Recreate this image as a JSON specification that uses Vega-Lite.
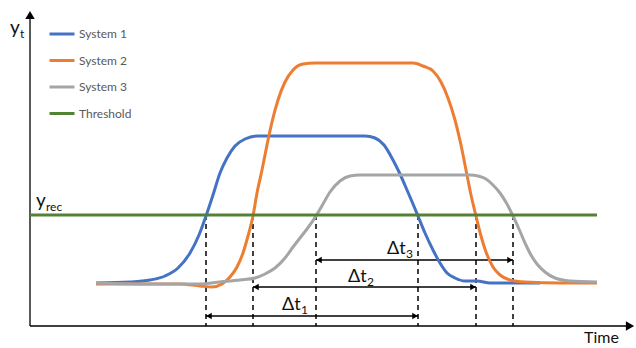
{
  "$schema": "https://vega.github.io/schema/vega-lite/v6.json",
  "width": 636,
  "height": 348,
  "padding": 0,
  "autosize": {"type": "none"},
  "background": "white",
  "config": {"view": {"stroke": null}},
  "datasets": {
    "curves": [
      {"s":"System 1","x":96,"y":283},{"s":"System 1","x":130,"y":282},{"s":"System 1","x":150,"y":280},{"s":"System 1","x":165,"y":276},{"s":"System 1","x":178,"y":268},{"s":"System 1","x":190,"y":253},{"s":"System 1","x":199,"y":235},{"s":"System 1","x":206,"y":216},{"s":"System 1","x":213,"y":195},{"s":"System 1","x":220,"y":173},{"s":"System 1","x":227,"y":158},{"s":"System 1","x":235,"y":146},{"s":"System 1","x":245,"y":139},{"s":"System 1","x":258,"y":136},{"s":"System 1","x":300,"y":136},{"s":"System 1","x":340,"y":136},{"s":"System 1","x":365,"y":136},{"s":"System 1","x":375,"y":138},{"s":"System 1","x":384,"y":145},{"s":"System 1","x":393,"y":160},{"s":"System 1","x":400,"y":174},{"s":"System 1","x":407,"y":190},{"s":"System 1","x":413,"y":204},{"s":"System 1","x":418,"y":216},{"s":"System 1","x":425,"y":233},{"s":"System 1","x":433,"y":250},{"s":"System 1","x":440,"y":263},{"s":"System 1","x":447,"y":273},{"s":"System 1","x":455,"y":278},{"s":"System 1","x":465,"y":281},{"s":"System 1","x":477,"y":281},{"s":"System 1","x":490,"y":283},{"s":"System 1","x":510,"y":283},{"s":"System 1","x":540,"y":283},
      {"s":"System 2","x":96,"y":284},{"s":"System 2","x":150,"y":284},{"s":"System 2","x":180,"y":284},{"s":"System 2","x":200,"y":286},{"s":"System 2","x":212,"y":287},{"s":"System 2","x":222,"y":284},{"s":"System 2","x":230,"y":277},{"s":"System 2","x":237,"y":267},{"s":"System 2","x":243,"y":253},{"s":"System 2","x":248,"y":236},{"s":"System 2","x":253,"y":216},{"s":"System 2","x":257,"y":193},{"s":"System 2","x":262,"y":170},{"s":"System 2","x":267,"y":145},{"s":"System 2","x":272,"y":122},{"s":"System 2","x":278,"y":100},{"s":"System 2","x":285,"y":82},{"s":"System 2","x":293,"y":70},{"s":"System 2","x":303,"y":64},{"s":"System 2","x":315,"y":63},{"s":"System 2","x":400,"y":63},{"s":"System 2","x":413,"y":63},{"s":"System 2","x":423,"y":66},{"s":"System 2","x":433,"y":71},{"s":"System 2","x":441,"y":82},{"s":"System 2","x":448,"y":98},{"s":"System 2","x":455,"y":120},{"s":"System 2","x":461,"y":145},{"s":"System 2","x":466,"y":170},{"s":"System 2","x":471,"y":195},{"s":"System 2","x":476,"y":216},{"s":"System 2","x":481,"y":236},{"s":"System 2","x":486,"y":252},{"s":"System 2","x":493,"y":267},{"s":"System 2","x":500,"y":275},{"s":"System 2","x":510,"y":280},{"s":"System 2","x":525,"y":282},{"s":"System 2","x":560,"y":283},{"s":"System 2","x":597,"y":283},
      {"s":"System 3","x":96,"y":283},{"s":"System 3","x":150,"y":284},{"s":"System 3","x":200,"y":284},{"s":"System 3","x":220,"y":282},{"s":"System 3","x":240,"y":280},{"s":"System 3","x":255,"y":278},{"s":"System 3","x":265,"y":274},{"s":"System 3","x":275,"y":268},{"s":"System 3","x":285,"y":258},{"s":"System 3","x":293,"y":247},{"s":"System 3","x":300,"y":238},{"s":"System 3","x":307,"y":229},{"s":"System 3","x":316,"y":216},{"s":"System 3","x":323,"y":204},{"s":"System 3","x":330,"y":192},{"s":"System 3","x":340,"y":181},{"s":"System 3","x":350,"y":176},{"s":"System 3","x":360,"y":175},{"s":"System 3","x":400,"y":175},{"s":"System 3","x":470,"y":175},{"s":"System 3","x":478,"y":176},{"s":"System 3","x":486,"y":179},{"s":"System 3","x":493,"y":185},{"s":"System 3","x":500,"y":193},{"s":"System 3","x":507,"y":204},{"s":"System 3","x":513,"y":216},{"s":"System 3","x":519,"y":229},{"s":"System 3","x":525,"y":243},{"s":"System 3","x":531,"y":255},{"s":"System 3","x":537,"y":264},{"s":"System 3","x":545,"y":272},{"s":"System 3","x":555,"y":278},{"s":"System 3","x":570,"y":281},{"s":"System 3","x":597,"y":282},
      {"s":"Threshold","x":30,"y":215},{"s":"Threshold","x":597,"y":215}
    ],
    "dashes": [
      {"x":206,"y":215,"y2":326},{"x":253,"y":215,"y2":326},{"x":316,"y":215,"y2":326},
      {"x":418,"y":215,"y2":326},{"x":476,"y":215,"y2":326},{"x":513,"y":215,"y2":326}
    ],
    "spans": [
      {"x":206,"x2":418,"y":316,"y2":316},
      {"x":253,"x2":476,"y":287,"y2":287},
      {"x":316,"x2":513,"y":260,"y2":260},
      {"x":30,"x2":626,"y":326,"y2":326},
      {"x":30,"x2":30,"y":18,"y2":326}
    ],
    "heads": [
      {"x":209,"y":316,"shape":"triangle-left","size":40},
      {"x":415,"y":316,"shape":"triangle-right","size":40},
      {"x":256,"y":287,"shape":"triangle-left","size":40},
      {"x":473,"y":287,"shape":"triangle-right","size":40},
      {"x":319,"y":260,"shape":"triangle-left","size":40},
      {"x":510,"y":260,"shape":"triangle-right","size":40},
      {"x":30,"y":15,"shape":"triangle-up","size":90},
      {"x":630,"y":326,"shape":"triangle-right","size":90}
    ],
    "labels": [
      {"x":10,"y":34,"text":"y","size":19},
      {"x":20,"y":38,"text":"t","size":12},
      {"x":36,"y":207,"text":"y","size":19},
      {"x":46,"y":211,"text":"rec","size":12},
      {"x":584,"y":343,"text":"Time","size":16},
      {"x":282,"y":310,"text":"Δt","size":18},
      {"x":301,"y":314,"text":"1","size":12},
      {"x":348,"y":282,"text":"Δt","size":18},
      {"x":367,"y":286,"text":"2","size":12},
      {"x":387,"y":254,"text":"Δt","size":18},
      {"x":406,"y":258,"text":"3","size":12}
    ]
  },
  "layer": [
    {
      "data": {"name": "dashes"},
      "mark": {"type": "rule", "color": "black", "strokeWidth": 1.5, "strokeDash": [5, 4]},
      "encoding": {
        "x": {"field": "x", "type": "quantitative", "scale": {"domain": [0, 636], "zero": false, "nice": false}, "axis": null},
        "y": {"field": "y", "type": "quantitative", "scale": {"domain": [0, 348], "zero": false, "nice": false, "reverse": true}, "axis": null},
        "y2": {"field": "y2"}
      }
    },
    {
      "data": {"name": "spans"},
      "mark": {"type": "rule", "color": "black", "strokeWidth": 1.3},
      "encoding": {
        "x": {"field": "x", "type": "quantitative", "scale": {"domain": [0, 636], "zero": false, "nice": false}, "axis": null},
        "x2": {"field": "x2"},
        "y": {"field": "y", "type": "quantitative", "scale": {"domain": [0, 348], "zero": false, "nice": false, "reverse": true}, "axis": null},
        "y2": {"field": "y2"}
      }
    },
    {
      "data": {"name": "curves"},
      "mark": {"type": "line", "strokeWidth": 3, "interpolate": "monotone"},
      "encoding": {
        "x": {"field": "x", "type": "quantitative", "scale": {"domain": [0, 636], "zero": false, "nice": false}, "axis": null},
        "y": {"field": "y", "type": "quantitative", "scale": {"domain": [0, 348], "zero": false, "nice": false, "reverse": true}, "axis": null},
        "color": {
          "field": "s", "type": "nominal",
          "scale": {"domain": ["System 1", "System 2", "System 3", "Threshold"], "range": ["#4472C4", "#ED7D31", "#A5A5A5", "#548235"]},
          "legend": {
            "title": null, "orient": "none", "legendX": 48, "legendY": 20, "padding": 0,
            "symbolType": "stroke", "symbolStrokeWidth": 3, "symbolSize": 625,
            "labelFont": "Lato", "labelFontSize": 12, "labelColor": "#595959", "labelOffset": 3,
            "rowPadding": 6.5
          }
        },
        "order": {"field": "x", "type": "quantitative"}
      }
    },
    {
      "data": {"name": "heads"},
      "mark": {"type": "point", "filled": true, "color": "black", "opacity": 1},
      "encoding": {
        "x": {"field": "x", "type": "quantitative", "scale": {"domain": [0, 636], "zero": false, "nice": false}, "axis": null},
        "y": {"field": "y", "type": "quantitative", "scale": {"domain": [0, 348], "zero": false, "nice": false, "reverse": true}, "axis": null},
        "shape": {"field": "shape", "type": "nominal", "scale": null},
        "size": {"field": "size", "type": "quantitative", "scale": null}
      }
    },
    {
      "data": {"name": "labels"},
      "mark": {"type": "text", "align": "left", "baseline": "alphabetic", "font": "Lato", "color": "#111111"},
      "encoding": {
        "x": {"field": "x", "type": "quantitative", "scale": {"domain": [0, 636], "zero": false, "nice": false}, "axis": null},
        "y": {"field": "y", "type": "quantitative", "scale": {"domain": [0, 348], "zero": false, "nice": false, "reverse": true}, "axis": null},
        "text": {"field": "text", "type": "nominal"},
        "size": {"field": "size", "type": "quantitative", "scale": null}
      }
    }
  ]
}
